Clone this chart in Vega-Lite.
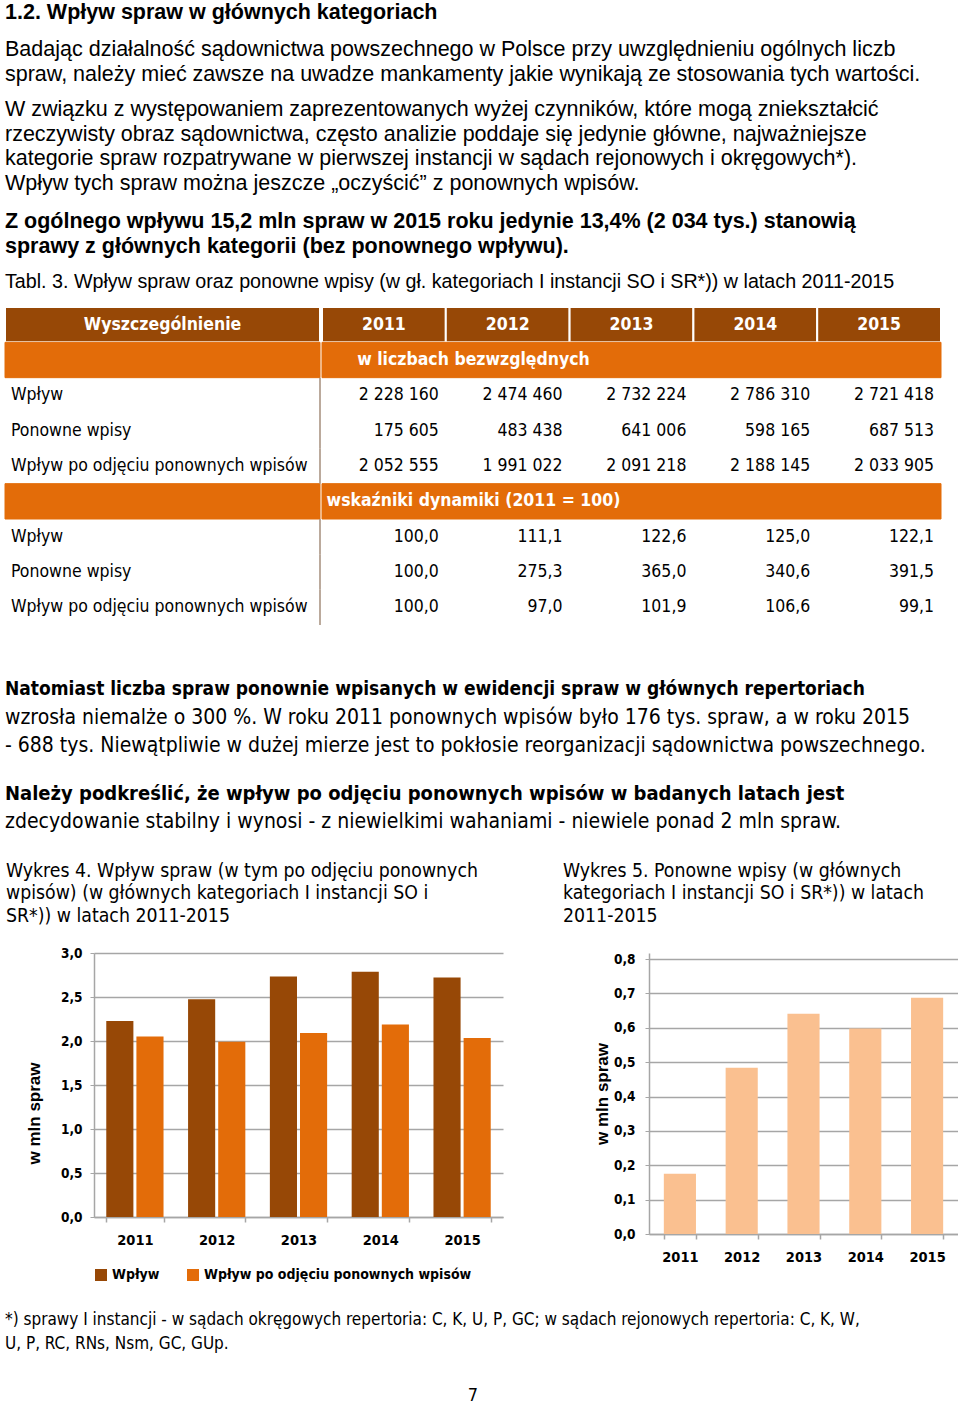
{
  "$schema": "https://vega.github.io/schema/vega-lite/v6.json",
  "background": "white",
  "padding": {"left": 4, "top": 1, "right": 0, "bottom": 0},
  "spacing": 0,
  "resolve": {"scale": {"color": "independent"}, "legend": {"color": "independent"}},
  "config": {
    "view": {"stroke": null},
    "font": "Liberation Sans",
    "locale": {"number": {"decimal": ",", "thousands": " ", "grouping": [3], "currency": ["", " zł"]}},
    "title": {"anchor": "start", "frame": "group", "font": "Liberation Sans", "fontSize": 21.5, "fontWeight": "bold", "color": "#000000", "lineHeight": 24.5, "subtitleFont": "Liberation Sans", "subtitleFontSize": 21.5, "subtitleColor": "#000000", "subtitleLineHeight": 24.5, "offset": 0}
  },
  "vconcat": [
    {
      "width": 936, "height": 1,
      "title": {"text": "1.2. Wpływ spraw w głównych kategoriach", "subtitle": ["Badając działalność sądownictwa powszechnego w Polsce przy uwzględnieniu ogólnych liczb", "spraw, należy mieć zawsze na uwadze mankamenty jakie wynikają ze stosowania tych wartości."], "subtitlePadding": 16, "offset": 13},
      "data": {"values": []},
      "mark": "point"
    },
    {
      "width": 936, "height": 1,
      "title": {"text": ["W związku z występowaniem zaprezentowanych wyżej czynników, które mogą zniekształcić", "rzeczywisty obraz sądownictwa, często analizie poddaje się jedynie główne, najważniejsze", "kategorie spraw rozpatrywane w pierwszej instancji w sądach rejonowych i okręgowych*).", "Wpływ tych spraw można jeszcze „oczyścić” z ponownych wpisów."], "fontWeight": "normal", "offset": 16},
      "data": {"values": []},
      "mark": "point"
    },
    {
      "title": {"text": ["Z ogólnego wpływu 15,2 mln spraw w 2015 roku jedynie 13,4% (2 034 tys.) stanowią", "sprawy z głównych kategorii (bez ponownego wpływu)."], "subtitle": "Tabl. 3. Wpływ spraw oraz ponowne wpisy (w gł. kategoriach I instancji SO i SR*)) w latach 2011-2015", "subtitleFontSize": 19.7, "subtitlePadding": 15, "offset": 14},
      "spacing": 0,
      "hconcat": [
        {
          "width": 315, "height": 318,
          "data": {"values": [
            {"r": 1, "kind": "head", "col": "Wyszczególnienie", "label": "Wyszczególnienie"},
            {"r": 2, "kind": "band", "col": "Wyszczególnienie", "label": ""},
            {"r": 3, "kind": "row", "col": "Wyszczególnienie", "label": "Wpływ"},
            {"r": 4, "kind": "row", "col": "Wyszczególnienie", "label": "Ponowne wpisy"},
            {"r": 5, "kind": "row", "col": "Wyszczególnienie", "label": "Wpływ po odjęciu ponownych wpisów"},
            {"r": 6, "kind": "band", "col": "Wyszczególnienie", "label": ""},
            {"r": 7, "kind": "row", "col": "Wyszczególnienie", "label": "Wpływ"},
            {"r": 8, "kind": "row", "col": "Wyszczególnienie", "label": "Ponowne wpisy"},
            {"r": 9, "kind": "row", "col": "Wyszczególnienie", "label": "Wpływ po odjęciu ponownych wpisów"}
          ]},
          "encoding": {"y": {"field": "r", "type": "ordinal", "axis": null, "scale": {"paddingInner": 0, "paddingOuter": 0}}},
          "layer": [
            {"transform": [{"filter": "datum.kind === 'head'"}], "mark": {"type": "rect", "fill": "#974806", "stroke": "white", "strokeWidth": 2},
             "encoding": {"x": {"field": "col", "type": "nominal", "axis": null, "scale": {"paddingInner": 0, "paddingOuter": 0}}}},
            {"transform": [{"filter": "datum.kind === 'band'"}], "mark": {"type": "rect", "fill": "#E36C09", "stroke": "#E36C09", "strokeWidth": 1}, "encoding": {}},
            {"transform": [{"filter": "datum.kind === 'row'"}], "mark": {"type": "rect", "stroke": "#a58f7c", "strokeWidth": 1.5, "fill": null},
             "encoding": {"x": {"value": "width"}, "x2": {"value": "width"}}},
            {"transform": [{"filter": "datum.kind === 'head'"}], "mark": {"type": "text", "font": "DejaVu Sans Condensed, Roboto, sans-serif", "fontSize": 17.5, "fontWeight": "bold", "color": "white"},
             "encoding": {"x": {"field": "col", "type": "nominal"}, "text": {"field": "label"}}},
            {"transform": [{"filter": "datum.kind === 'row'"}], "mark": {"type": "text", "font": "DejaVu Sans Condensed, Roboto, sans-serif", "fontSize": 17.5, "color": "#000000", "align": "left", "dx": 6},
             "encoding": {"x": {"field": "col", "type": "nominal", "bandPosition": 0}, "text": {"field": "label"}}}
          ]
        },
        {
          "width": 619, "height": 318,
          "data": {"values": [
            {"r": 1, "kind": "head", "year": "2011", "t": "2011"},
            {"r": 1, "kind": "head", "year": "2012", "t": "2012"},
            {"r": 1, "kind": "head", "year": "2013", "t": "2013"},
            {"r": 1, "kind": "head", "year": "2014", "t": "2014"},
            {"r": 1, "kind": "head", "year": "2015", "t": "2015"},
            {"r": 2, "kind": "band", "t": "w liczbach bezwzględnych"},
            {"r": 3, "kind": "row", "year": "2011", "t": "2 228 160"},
            {"r": 3, "kind": "row", "year": "2012", "t": "2 474 460"},
            {"r": 3, "kind": "row", "year": "2013", "t": "2 732 224"},
            {"r": 3, "kind": "row", "year": "2014", "t": "2 786 310"},
            {"r": 3, "kind": "row", "year": "2015", "t": "2 721 418"},
            {"r": 4, "kind": "row", "year": "2011", "t": "175 605"},
            {"r": 4, "kind": "row", "year": "2012", "t": "483 438"},
            {"r": 4, "kind": "row", "year": "2013", "t": "641 006"},
            {"r": 4, "kind": "row", "year": "2014", "t": "598 165"},
            {"r": 4, "kind": "row", "year": "2015", "t": "687 513"},
            {"r": 5, "kind": "row", "year": "2011", "t": "2 052 555"},
            {"r": 5, "kind": "row", "year": "2012", "t": "1 991 022"},
            {"r": 5, "kind": "row", "year": "2013", "t": "2 091 218"},
            {"r": 5, "kind": "row", "year": "2014", "t": "2 188 145"},
            {"r": 5, "kind": "row", "year": "2015", "t": "2 033 905"},
            {"r": 6, "kind": "band", "t": "wskaźniki dynamiki (2011 = 100)"},
            {"r": 7, "kind": "row", "year": "2011", "t": "100,0"},
            {"r": 7, "kind": "row", "year": "2012", "t": "111,1"},
            {"r": 7, "kind": "row", "year": "2013", "t": "122,6"},
            {"r": 7, "kind": "row", "year": "2014", "t": "125,0"},
            {"r": 7, "kind": "row", "year": "2015", "t": "122,1"},
            {"r": 8, "kind": "row", "year": "2011", "t": "100,0"},
            {"r": 8, "kind": "row", "year": "2012", "t": "275,3"},
            {"r": 8, "kind": "row", "year": "2013", "t": "365,0"},
            {"r": 8, "kind": "row", "year": "2014", "t": "340,6"},
            {"r": 8, "kind": "row", "year": "2015", "t": "391,5"},
            {"r": 9, "kind": "row", "year": "2011", "t": "100,0"},
            {"r": 9, "kind": "row", "year": "2012", "t": "97,0"},
            {"r": 9, "kind": "row", "year": "2013", "t": "101,9"},
            {"r": 9, "kind": "row", "year": "2014", "t": "106,6"},
            {"r": 9, "kind": "row", "year": "2015", "t": "99,1"}
          ]},
          "encoding": {"y": {"field": "r", "type": "ordinal", "axis": null, "scale": {"paddingInner": 0, "paddingOuter": 0}}},
          "layer": [
            {"transform": [{"filter": "datum.kind === 'head'"}], "mark": {"type": "rect", "fill": "#974806", "stroke": "white", "strokeWidth": 2},
             "encoding": {"x": {"field": "year", "type": "ordinal", "axis": null, "scale": {"paddingInner": 0, "paddingOuter": 0}}}},
            {"transform": [{"filter": "datum.kind === 'band'"}], "mark": {"type": "rect", "fill": "#E36C09", "stroke": "#E36C09", "strokeWidth": 1}, "encoding": {}},
            {"transform": [{"filter": "datum.kind === 'head'"}], "mark": {"type": "text", "font": "DejaVu Sans Condensed, Roboto, sans-serif", "fontSize": 17.5, "fontWeight": "bold", "color": "white"},
             "encoding": {"x": {"field": "year", "type": "ordinal"}, "text": {"field": "t"}}},
            {"transform": [{"filter": "datum.kind === 'band'"}], "mark": {"type": "text", "font": "DejaVu Sans Condensed, Roboto, sans-serif", "fontSize": 17.5, "fontWeight": "bold", "color": "white", "dx": -158},
             "encoding": {"text": {"field": "t"}}},
            {"transform": [{"filter": "datum.kind === 'row'"}], "mark": {"type": "text", "font": "DejaVu Sans Condensed, Roboto, sans-serif", "fontSize": 17.5, "color": "#000000", "align": "right", "dx": -7},
             "encoding": {"x": {"field": "year", "type": "ordinal", "bandPosition": 1}, "text": {"field": "t"}}}
          ]
        }
      ]
    },
    {
      "width": 936, "height": 54,
      "data": {"values": []},
      "mark": "point"
    },
    {
      "width": 936, "height": 1,
      "title": {"text": "Natomiast liczba spraw ponownie wpisanych w ewidencji spraw w głównych repertoriach", "subtitle": ["wzrosła niemalże o 300 %. W roku 2011 ponownych wpisów było 176 tys. spraw, a w roku 2015", "- 688 tys. Niewątpliwie w dużej mierze jest to pokłosie reorganizacji sądownictwa powszechnego."], "font": "DejaVu Sans Condensed, Roboto, sans-serif", "subtitleFont": "DejaVu Sans Condensed, Roboto, sans-serif", "fontSize": 19, "subtitleFontSize": 21, "lineHeight": 28.5, "subtitleLineHeight": 28.5, "subtitlePadding": 7.5, "offset": 27},
      "data": {"values": []},
      "mark": "point"
    },
    {
      "width": 936, "height": 1,
      "title": {"text": "Należy podkreślić, że wpływ po odjęciu ponownych wpisów w badanych latach jest", "subtitle": "zdecydowanie stabilny i wynosi - z niewielkimi wahaniami - niewiele ponad 2 mln spraw.", "font": "DejaVu Sans Condensed, Roboto, sans-serif", "subtitleFont": "DejaVu Sans Condensed, Roboto, sans-serif", "fontSize": 20, "subtitleFontSize": 21, "lineHeight": 28.5, "subtitleLineHeight": 28.5, "subtitlePadding": 7, "offset": 28},
      "data": {"values": []},
      "mark": "point"
    },
    {
      "spacing": 0,
      "resolve": {"scale": {"color": "independent"}, "legend": {"color": "independent"}},
      "hconcat": [
        {
          "width": 1, "height": 1,
          "data": {"values": []},
          "mark": "point"
        },
        {
          "spacing": 60,
          "resolve": {"scale": {"color": "independent"}, "legend": {"color": "independent"}},
          "hconcat": [
            {
              "width": 409, "height": 264,
              "title": {"text": ["Wykres 4. Wpływ spraw (w tym po odjęciu ponownych", "wpisów) (w głównych kategoriach I instancji SO i", "SR*)) w latach 2011-2015"], "font": "DejaVu Sans Condensed, Roboto, sans-serif", "fontWeight": "normal", "fontSize": 19.3, "lineHeight": 22.5, "dx": -88, "offset": 20},
              "data": {"values": [
                {"year": "2011", "series": "Wpływ", "v": 2.22816},
                {"year": "2012", "series": "Wpływ", "v": 2.47446},
                {"year": "2013", "series": "Wpływ", "v": 2.732224},
                {"year": "2014", "series": "Wpływ", "v": 2.78631},
                {"year": "2015", "series": "Wpływ", "v": 2.721418},
                {"year": "2011", "series": "Wpływ po odjęciu ponownych wpisów", "v": 2.052555},
                {"year": "2012", "series": "Wpływ po odjęciu ponownych wpisów", "v": 1.991022},
                {"year": "2013", "series": "Wpływ po odjęciu ponownych wpisów", "v": 2.091218},
                {"year": "2014", "series": "Wpływ po odjęciu ponownych wpisów", "v": 2.188145},
                {"year": "2015", "series": "Wpływ po odjęciu ponownych wpisów", "v": 2.033905}
              ]},
              "mark": {"type": "bar"},
              "encoding": {
                "x": {"field": "year", "type": "nominal", "scale": {"paddingInner": 0.3, "paddingOuter": 0.15},
                      "axis": {"title": null, "labelAngle": 0, "tickBand": "extent", "labelFont": "DejaVu Sans Condensed, Roboto, sans-serif", "labelFontWeight": "bold", "labelFontSize": 14.5, "labelColor": "#000000", "domainColor": "#a6a6a6", "domainWidth": 1.5, "tickColor": "#a6a6a6", "tickWidth": 1.5, "tickSize": 5, "labelPadding": 11}},
                "xOffset": {"field": "series", "type": "nominal", "sort": ["Wpływ", "Wpływ po odjęciu ponownych wpisów"], "scale": {"paddingInner": 0.1}},
                "y": {"field": "v", "type": "quantitative", "scale": {"domain": [0, 3]},
                      "axis": {"title": "w mln spraw", "values": [0, 0.5, 1, 1.5, 2, 2.5, 3], "format": ".1f", "grid": true, "gridColor": "#a6a6a6", "gridWidth": 1.5, "domainColor": "#a6a6a6", "domainWidth": 1.5, "tickColor": "#a6a6a6", "tickSize": 4, "labelFont": "DejaVu Sans Condensed, Roboto, sans-serif", "labelFontWeight": "bold", "labelFontSize": 13.5, "labelColor": "#000000", "labelPadding": 8, "titleFont": "Liberation Sans", "titleFontSize": 17, "titleFontWeight": "bold", "titleColor": "#000000", "titlePadding": 17, "titleY": 160}},
                "color": {"field": "series", "type": "nominal", "sort": ["Wpływ", "Wpływ po odjęciu ponownych wpisów"], "scale": {"range": ["#974806", "#E36C09"]},
                          "legend": {"title": null, "orient": "bottom", "direction": "horizontal", "symbolType": "square", "symbolSize": 144, "symbolStrokeWidth": 0, "labelFont": "DejaVu Sans Condensed, Roboto, sans-serif", "labelFontWeight": "bold", "labelFontSize": 14, "labelColor": "#000000", "labelLimit": 400, "columnPadding": 26, "offset": 21}}
              }
            },
            {
              "width": 309, "height": 281,
              "title": {"text": ["Wykres 5. Ponowne wpisy (w głównych", "kategoriach I instancji SO i SR*)) w latach", "2011-2015"], "font": "DejaVu Sans Condensed, Roboto, sans-serif", "fontWeight": "normal", "fontSize": 19.3, "lineHeight": 22.5, "dx": -86, "offset": 26},
              "data": {"values": [
                {"year": "2011", "v": 0.175605},
                {"year": "2012", "v": 0.483438},
                {"year": "2013", "v": 0.641006},
                {"year": "2014", "v": 0.598165},
                {"year": "2015", "v": 0.687513}
              ]},
              "mark": {"type": "bar", "color": "#FAC090"},
              "encoding": {
                "x": {"field": "year", "type": "nominal", "scale": {"paddingInner": 0.48, "paddingOuter": 0.24},
                      "axis": {"title": null, "labelAngle": 0, "tickBand": "extent", "labelFont": "DejaVu Sans Condensed, Roboto, sans-serif", "labelFontWeight": "bold", "labelFontSize": 14.5, "labelColor": "#000000", "domainColor": "#a6a6a6", "domainWidth": 1.5, "tickColor": "#a6a6a6", "tickWidth": 1.5, "tickSize": 5, "labelPadding": 11}},
                "y": {"field": "v", "type": "quantitative", "scale": {"domain": [0, 0.8175], "nice": false},
                      "axis": {"title": "w mln spraw", "values": [0, 0.1, 0.2, 0.3, 0.4, 0.5, 0.6, 0.7, 0.8], "format": ".1f", "grid": true, "gridColor": "#a6a6a6", "gridWidth": 1.5, "domainColor": "#a6a6a6", "domainWidth": 1.5, "tickColor": "#a6a6a6", "tickSize": 4, "labelFont": "DejaVu Sans Condensed, Roboto, sans-serif", "labelFontWeight": "bold", "labelFontSize": 13.5, "labelColor": "#000000", "labelPadding": 10, "titleFont": "Liberation Sans", "titleFontSize": 17, "titleFontWeight": "bold", "titleColor": "#000000", "titlePadding": 2}}
              }
            }
          ]
        }
      ]
    },
    {
      "width": 936, "height": 29,
      "data": {"values": []},
      "mark": "point"
    },
    {
      "width": 936, "height": 1,
      "title": {"text": ["*) sprawy I instancji - w sądach okręgowych repertoria: C, K, U, P, GC; w sądach rejonowych repertoria: C, K, W,", "U, P, RC, RNs, Nsm, GC, GUp."], "font": "DejaVu Sans Condensed, Roboto, sans-serif", "fontWeight": "normal", "fontSize": 17, "lineHeight": 24, "offset": 33},
      "data": {"values": []},
      "mark": "point"
    },
    {
      "width": 936, "height": 1,
      "title": {"text": "7", "anchor": "middle", "font": "DejaVu Sans Condensed, Roboto, sans-serif", "fontWeight": "normal", "fontSize": 18, "offset": 0},
      "data": {"values": []},
      "mark": "point"
    }
  ]
}
